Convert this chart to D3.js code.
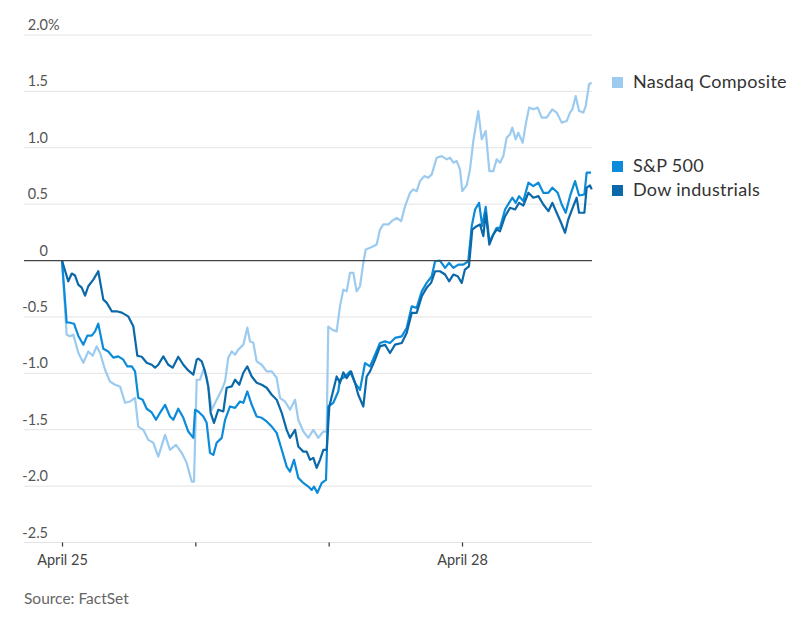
<!DOCTYPE html>
<html>
<head>
<meta charset="utf-8">
<script src="https://cdn.jsdelivr.net/npm/d3@7"></script>
<style>
  body { margin: 0; background: #fff; }
  text { font-family: Lato, "Noto Sans", sans-serif; }
</style>
</head>
<body>
<svg id="chart" width="810" height="618"></svg>
<script>
// time in trading days from April 25 open, value in % change
const nasdaq = [
  [0, 0], [0.035, -0.657], [0.06, -0.672], [0.085, -0.657], [0.122, -0.817], [0.16, -0.906],
  [0.197, -0.806], [0.23, -0.844], [0.26, -0.761], [0.285, -0.817], [0.323, -0.968], [0.36, -1.072],
  [0.398, -1.101], [0.435, -1.116], [0.473, -1.261], [0.51, -1.25], [0.548, -1.217], [0.572, -1.472],
  [0.61, -1.501], [0.647, -1.59], [0.685, -1.616], [0.722, -1.738], [0.773, -1.545], [0.81, -1.678],
  [0.855, -1.634], [0.898, -1.705], [0.935, -1.794], [0.973, -1.96], [0.99, -1.96], [1.01, -1.057],
  [1.035, -1.057], [1.06, -0.968], [1.085, -1.028], [1.123, -1.323], [1.16, -1.234], [1.198, -1.146],
  [1.223, -1.072], [1.247, -0.861], [1.273, -0.806], [1.298, -0.835], [1.322, -0.79], [1.36, -0.746],
  [1.39, -0.595], [1.41, -0.717], [1.435, -0.728], [1.46, -0.894], [1.498, -0.924], [1.535, -0.983],
  [1.573, -0.983], [1.61, -1.039], [1.635, -1.217], [1.673, -1.25], [1.71, -1.323], [1.748, -1.234],
  [1.772, -1.412], [1.81, -1.516], [1.847, -1.572], [1.885, -1.501], [1.922, -1.572], [1.96, -1.516],
  [1.985, -1.516], [1.997, -0.586], [2.027, -0.613], [2.06, -0.628], [2.085, -0.406], [2.11, -0.258],
  [2.135, -0.273], [2.16, -0.109], [2.185, -0.109], [2.21, -0.273], [2.235, -0.228], [2.26, -0.02],
  [2.278, 0.098], [2.31, 0.113], [2.335, 0.127], [2.36, 0.142], [2.385, 0.275], [2.41, 0.32],
  [2.448, 0.32], [2.473, 0.349], [2.51, 0.379], [2.543, 0.349], [2.573, 0.482], [2.61, 0.601],
  [2.635, 0.631], [2.66, 0.615], [2.685, 0.704], [2.717, 0.749], [2.747, 0.734], [2.773, 0.764],
  [2.81, 0.912], [2.848, 0.926], [2.885, 0.897], [2.91, 0.912], [2.935, 0.868], [2.96, 0.882],
  [2.985, 0.808], [3.002, 0.615], [3.035, 0.666], [3.06, 0.808], [3.085, 1.06], [3.122, 1.326],
  [3.148, 1.075], [3.178, 1.148], [3.205, 0.793], [3.235, 0.793], [3.26, 0.897], [3.285, 0.868],
  [3.31, 0.926], [3.335, 1.09], [3.36, 1.119], [3.377, 1.179], [3.403, 1.075], [3.422, 1.134],
  [3.455, 1.045], [3.478, 1.208], [3.503, 1.356], [3.535, 1.341], [3.568, 1.356], [3.598, 1.267],
  [3.635, 1.267], [3.677, 1.341], [3.71, 1.312], [3.748, 1.223], [3.785, 1.237], [3.81, 1.312],
  [3.828, 1.341], [3.853, 1.459], [3.878, 1.326], [3.91, 1.312], [3.928, 1.37], [3.953, 1.563],
  [3.973, 1.578]
];

const sp500 = [
  [0, 0], [0.035, -0.548], [0.06, -0.551], [0.09, -0.56], [0.122, -0.666], [0.16, -0.746],
  [0.19, -0.666], [0.223, -0.666], [0.248, -0.628], [0.272, -0.56], [0.31, -0.782], [0.347, -0.806],
  [0.385, -0.861], [0.422, -0.85], [0.46, -0.879], [0.49, -0.939], [0.523, -0.939], [0.548, -0.983],
  [0.572, -1.217], [0.605, -1.234], [0.635, -1.314], [0.673, -1.347], [0.705, -1.412], [0.735, -1.35],
  [0.773, -1.279], [0.81, -1.383], [0.835, -1.412], [0.872, -1.314], [0.91, -1.394], [0.947, -1.516],
  [0.985, -1.572], [0.998, -1.323], [1.022, -1.338], [1.06, -1.383], [1.085, -1.439], [1.11, -1.705],
  [1.135, -1.723], [1.16, -1.616], [1.198, -1.572], [1.223, -1.412], [1.26, -1.294], [1.298, -1.306],
  [1.335, -1.25], [1.36, -1.261], [1.39, -1.161], [1.423, -1.279], [1.46, -1.383], [1.498, -1.394],
  [1.535, -1.427], [1.573, -1.472], [1.61, -1.528], [1.648, -1.678], [1.685, -1.827], [1.71, -1.871],
  [1.74, -1.767], [1.772, -1.927], [1.81, -1.972], [1.847, -2.004], [1.873, -2.034], [1.89, -2.004],
  [1.915, -2.06], [1.948, -1.972], [1.98, -1.945], [1.997, -1.294], [2.035, -1.261], [2.072, -1.161],
  [2.085, -1.057], [2.123, -1.028], [2.16, -0.983], [2.198, -1.086], [2.235, -1.146], [2.273, -0.909],
  [2.31, -0.939], [2.348, -0.835], [2.385, -0.731], [2.423, -0.717], [2.46, -0.731], [2.498, -0.686],
  [2.548, -0.672], [2.585, -0.598], [2.623, -0.406], [2.66, -0.42], [2.698, -0.273], [2.735, -0.198],
  [2.773, -0.139], [2.798, -0.006], [2.835, 0], [2.873, -0.065], [2.903, -0.02], [2.935, -0.065],
  [2.973, -0.036], [3.01, -0.036], [3.047, -0.006], [3.073, 0.305], [3.098, 0.453], [3.128, 0.512],
  [3.152, 0.305], [3.178, 0.477], [3.205, 0.171], [3.235, 0.231], [3.26, 0.29], [3.285, 0.29],
  [3.323, 0.453], [3.353, 0.512], [3.377, 0.557], [3.403, 0.512], [3.428, 0.571], [3.46, 0.527],
  [3.498, 0.69], [3.535, 0.66], [3.573, 0.69], [3.61, 0.601], [3.648, 0.601], [3.678, 0.646],
  [3.718, 0.601], [3.748, 0.497], [3.778, 0.424], [3.81, 0.571], [3.848, 0.704], [3.878, 0.577],
  [3.918, 0.586], [3.935, 0.779], [3.968, 0.779]
];

const dow = [
  [0, 0], [0.047, -0.184], [0.073, -0.115], [0.098, -0.133], [0.122, -0.213], [0.148, -0.24],
  [0.173, -0.311], [0.197, -0.228], [0.235, -0.169], [0.272, -0.095], [0.31, -0.346], [0.335, -0.373],
  [0.373, -0.45], [0.41, -0.45], [0.448, -0.462], [0.497, -0.495], [0.535, -0.583], [0.565, -0.844],
  [0.598, -0.853], [0.635, -0.906], [0.673, -0.924], [0.698, -0.95], [0.722, -0.924], [0.76, -0.85],
  [0.797, -0.924], [0.83, -0.95], [0.872, -0.853], [0.91, -0.924], [0.947, -0.974], [0.985, -1.012],
  [1.01, -0.879], [1.022, -0.87], [1.048, -0.894], [1.073, -0.983], [1.097, -1.116], [1.115, -1.35],
  [1.14, -1.439], [1.172, -1.323], [1.21, -1.338], [1.235, -1.128], [1.273, -1.116], [1.298, -1.057],
  [1.33, -1.101], [1.36, -0.995], [1.39, -0.939], [1.423, -1.028], [1.46, -1.083], [1.498, -1.101],
  [1.535, -1.128], [1.573, -1.19], [1.61, -1.234], [1.648, -1.35], [1.685, -1.501], [1.71, -1.572],
  [1.748, -1.501], [1.772, -1.649], [1.81, -1.694], [1.835, -1.694], [1.86, -1.767], [1.885, -1.75],
  [1.91, -1.838], [1.935, -1.767], [1.96, -1.678], [1.985, -1.678], [2.005, -1.294], [2.023, -1.205],
  [2.06, -1.028], [2.085, -1.086], [2.11, -0.992], [2.135, -1.042], [2.168, -0.983], [2.198, -1.086],
  [2.222, -1.19], [2.26, -1.294], [2.285, -1.028], [2.31, -0.983], [2.348, -0.879], [2.385, -0.761],
  [2.423, -0.746], [2.46, -0.82], [2.498, -0.746], [2.548, -0.731], [2.585, -0.642], [2.623, -0.464],
  [2.66, -0.464], [2.698, -0.317], [2.735, -0.242], [2.768, -0.198], [2.798, -0.095], [2.835, -0.095],
  [2.873, -0.124], [2.903, -0.184], [2.935, -0.124], [2.968, -0.139], [2.998, -0.198], [3.022, -0.08],
  [3.052, -0.051], [3.077, 0.275], [3.11, 0.305], [3.135, 0.32], [3.16, 0.216], [3.178, 0.424],
  [3.205, 0.142], [3.235, 0.231], [3.26, 0.275], [3.285, 0.26], [3.323, 0.393], [3.36, 0.468],
  [3.398, 0.453], [3.428, 0.512], [3.46, 0.488], [3.498, 0.601], [3.535, 0.557], [3.573, 0.571],
  [3.61, 0.497], [3.648, 0.438], [3.678, 0.512], [3.71, 0.424], [3.743, 0.335], [3.773, 0.246],
  [3.797, 0.364], [3.835, 0.482], [3.86, 0.557], [3.878, 0.424], [3.918, 0.424], [3.935, 0.646],
  [3.96, 0.666], [3.973, 0.631]
];

const seriesNames = ['Nasdaq Composite', 'S&P 500', 'Dow industrials'];
const seriesColors = ['#9ccbef', '#0b8bd9', '#0b69a9'];
const yTicks = [2.0, 1.5, 1.0, 0.5, 0, -0.5, -1.0, -1.5, -2.0, -2.5];
const xTicks = [0, 1, 2, 3];
const xTickLabels = ['April 25', '', '', 'April 28'];

const svg = d3.select('#chart');
const left = 24, right = 592;

const x = d3.scaleLinear().domain([0, 3.975]).range([62, 592]);
const y = d3.scaleLinear().domain([-2.5, 2.0]).range([542.5, 35]);

// gridlines + y labels
const grid = svg.append('g');
grid.selectAll('line')
    .data(yTicks.filter(d => d !== 0))
    .enter()
    .append('line')
    .attr('x1', left)
    .attr('x2', right)
    .attr('y1', d => y(d))
    .attr('y2', d => y(d))
    .attr('stroke', '#e3e3e6')
    .attr('stroke-width', 1);

grid.selectAll('text')
    .data(yTicks)
    .enter()
    .append('text')
    .attr('x', 48)
    .attr('y', d => y(d) - 5)
    .attr('text-anchor', 'end')
    .attr('fill', '#555')
    .style('font-size', '14.5px')
    .text(d => d === 0 ? '0' : d.toFixed(1));

svg.append('text')
    .attr('x', 48)
    .attr('y', y(2.0) - 5)
    .attr('fill', '#555')
    .style('font-size', '14.5px')
    .text('%');

// x axis ticks
const xAxis = svg.append('g')
    .attr('transform', `translate(0, ${y(-2.5)})`)
    .call(d3.axisBottom(x)
        .tickValues(xTicks)
        .tickSize(4)
        .tickFormat((d, i) => xTickLabels[i]));

xAxis.select('.domain').remove();
xAxis.selectAll('.tick line').attr('stroke', '#333').attr('stroke-width', 1.2);
xAxis.selectAll('.tick text')
    .attr('y', 12)
    .attr('fill', '#444')
    .style('font-family', 'Lato, "Noto Sans", sans-serif')
    .style('font-size', '14.5px');

// lines
const line = d3.line()
    .x(d => x(d[0]))
    .y(d => y(d[1]));

const allSeries = [nasdaq, sp500, dow];
svg.append('g')
    .selectAll('path')
    .data(allSeries)
    .enter()
    .append('path')
    .attr('d', d => line(d))
    .attr('fill', 'none')
    .attr('stroke', (d, i) => seriesColors[i])
    .attr('stroke-width', 2.2)
    .attr('stroke-linejoin', 'round');

// zero line on top
svg.append('line')
    .attr('x1', left)
    .attr('x2', right)
    .attr('y1', y(0))
    .attr('y2', y(0))
    .attr('stroke', '#444')
    .attr('stroke-width', 1.3);

// legend
const legendY = [77, 161, 185];
const legend = svg.append('g')
    .selectAll('g')
    .data(seriesNames)
    .enter()
    .append('g')
    .attr('transform', (d, i) => `translate(612, ${legendY[i]})`);

legend.append('rect')
    .attr('width', 11)
    .attr('height', 11)
    .attr('fill', (d, i) => seriesColors[i]);

legend.append('text')
    .attr('x', 21)
    .attr('y', 11)
    .attr('fill', '#333')
    .style('font-size', '18px')
    .style('letter-spacing', '0.3px')
    .text(d => d);

svg.append('text')
    .attr('x', 24)
    .attr('y', 604)
    .attr('fill', '#666')
    .style('font-size', '15.5px')
    .text('Source: FactSet');
</script>
</body>
</html>
